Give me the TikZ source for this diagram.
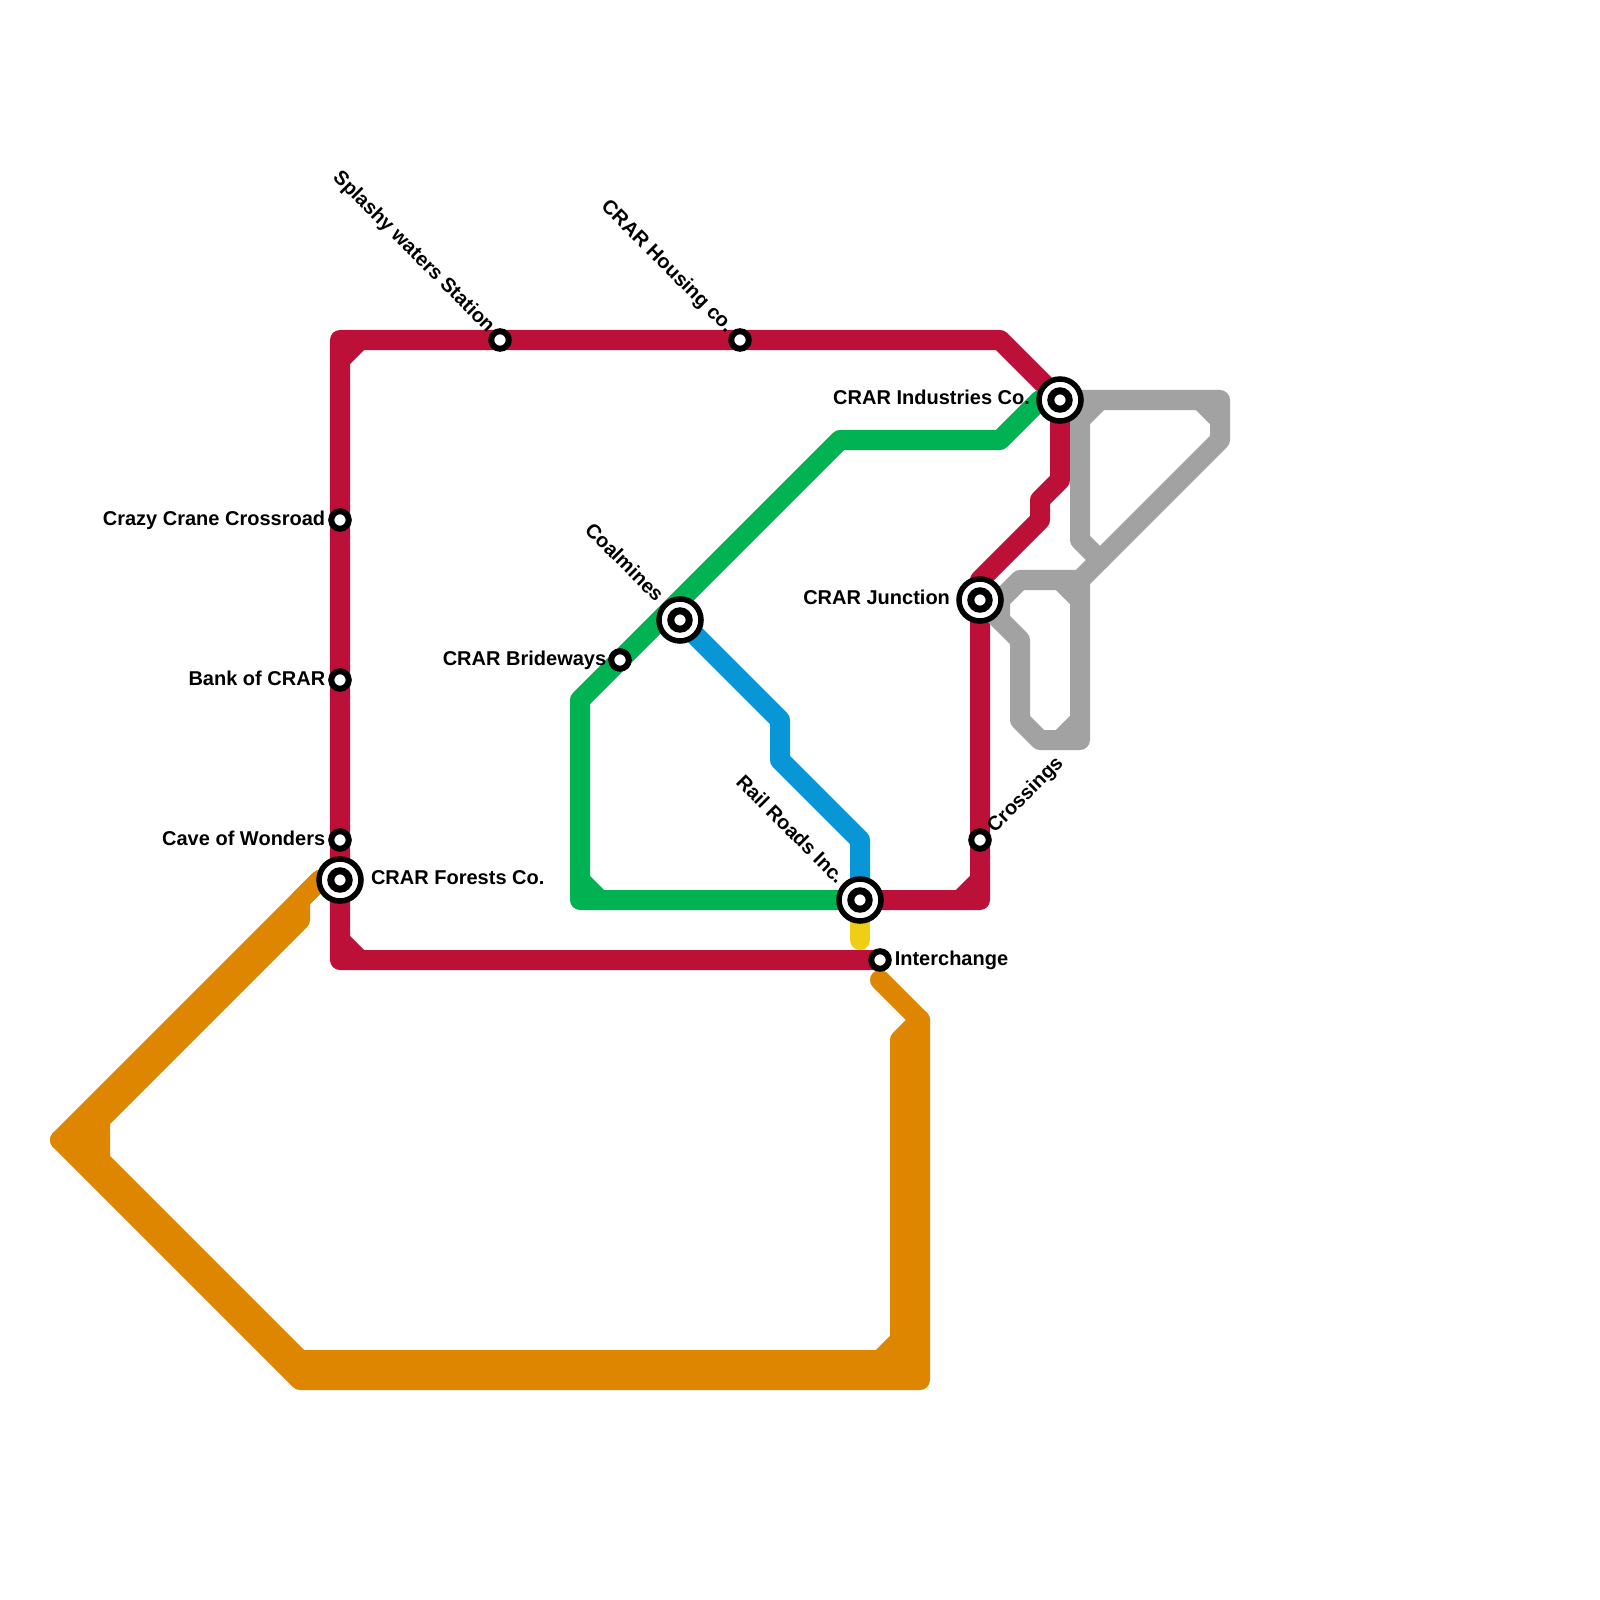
\documentclass[tikz,border=0pt]{standalone}
\usepackage{fontspec}
\setmainfont{Liberation Sans}
\usepackage{xcolor}
\usepackage{tikz}
\usetikzlibrary{positioning,backgrounds,calc}
\definecolor{linered}{HTML}{BD1038}
\definecolor{lineorange}{HTML}{DF8600}
\definecolor{linegreen}{HTML}{00B251}
\definecolor{lineblue}{HTML}{0896D7}
\definecolor{lineyellow}{HTML}{F0CE15}
\definecolor{linegray}{HTML}{A2A2A2}
\tikzset{
  track/.style={
    line width=0.2cm,
    line cap=round,
    line join=round
  },
  redtrack/.style={track, draw=linered},
  orangetrack/.style={track, draw=lineorange},
  greentrack/.style={track, draw=linegreen},
  bluetrack/.style={track, draw=lineblue},
  yellowtrack/.style={track, draw=lineyellow},
  graytrack/.style={track, draw=linegray},
  stop/.style={
    circle,
    draw=black,
    fill=white,
    line width=0.06cm,
    minimum size=0.175cm,
    inner sep=0pt,
    outer sep=0pt
  },
  hub/.style={
    circle,
    draw=black,
    fill=white,
    line width=0.055cm,
    minimum size=0.42cm,
    inner sep=0pt,
    outer sep=0pt,
    path picture={
      \draw[black, line width=0.07cm] (path picture bounding box.center) circle (0.092cm);
    }
  },
  tag/.style={
    font=\fontsize{5.69}{7}\selectfont\bfseries,
    text height=0.146cm,
    text depth=0.042cm,
    inner sep=0pt,
    outer sep=0pt
  }
}
\begin{document}
\begin{tikzpicture}[x=0.01cm, y=-0.01cm]
\useasboundingbox (0,0) rectangle (1600,1600);

% Stations on the top and left of the red line.
\node[stop] (splashy) at (500,340) {};
\node[stop] (housing) at (740,340) {};
\node[stop] (crazy) at (340,520) {};
\node[stop] (bank) at (340,680) {};
\node[stop] (cave) at (340,840) {};
\node[hub] (forests) at (340,880) {};

% Stations in the middle.
\node[hub] (coalmines) at (680,620) {};
\node[stop] (brideways) at (620,660) {};
\node[hub] (railroads) at (860,900) {};
\node[stop] (interchange) at (880,960) {};

% Stations on the right.
\node[hub] (industries) at (1060,400) {};
\node[hub] (junction) at (980,600) {};
\node[stop] (crossings) at (980,840) {};

% Labels.
\node[tag, left=0.06cm of crazy] (crazylabel) {Crazy Crane Crossroad};
\node[tag, left=0.06cm of bank] (banklabel) {Bank of CRAR};
\node[tag, left=0.06cm of cave] (cavelabel) {Cave of Wonders};
\node[tag, right=0.10cm of forests, yshift=0.01cm] (forestslabel) {CRAR Forests Co.};
\node[tag, left=0.05cm of brideways] (bridewayslabel) {CRAR Brideways};
\node[tag, left=0.09cm of industries, yshift=0.01cm] (industrieslabel) {CRAR Industries Co.};
\node[tag, left=0.09cm of junction, yshift=0.01cm] (junctionlabel) {CRAR Junction};
\node[tag, right=0.06cm of interchange] (interchangelabel) {Interchange};
\node[tag, rotate=-45, anchor=east] (splashylabel) at ($(splashy.north west)+(-3,-4)$) {Splashy waters Station};
\node[tag, rotate=-45, anchor=east] (housinglabel) at ($(housing.north west)+(-4,-4)$) {CRAR Housing co.};
\node[tag, rotate=-45, anchor=east] (coalmineslabel) at ($(coalmines.north west)+(-6,-6)$) {Coalmines};
\node[tag, rotate=-45, anchor=east] (railroadslabel) at ($(railroads.north west)+(-5,-4)$) {Rail Roads Inc.};
\node[tag, rotate=45, anchor=west] (crossingslabel) at ($(crossings.north east)+(5,-4)$) {Crossings};

% Lines go under the stations.
\begin{scope}[on background layer]
  \draw[orangetrack] (forests.center) -- (320,880) -- (60,1140) -- (300,1380) -- (920,1380) -- (920,1020) -- (880,980);
  \draw[orangetrack] (320,880) -- (300,900) -- (300,920) -- (100,1120) -- (100,1160) -- (300,1360) -- (880,1360) -- (900,1340) -- (900,1040) -- (920,1020);
  \draw[orangetrack] (910,1030) -- (910,1370) -- (300,1370) -- (80,1150);
  \draw[orangetrack] (60,1140) -- (100,1140);
  \draw[orangetrack] (100,1120) -- (80,1140) -- (100,1160);
  \draw[orangetrack] (900,1340) -- (900,1360);

  \draw[redtrack] (interchange.center) -- (340,960) -- (340,340) -- (1000,340) -- (industries.center) -- (1060,480) -- (1040,500) -- (1040,520) -- (980,580) -- (980,900) -- (railroads.center);
  \draw[redtrack] (340,360) -- (360,340);
  \draw[redtrack] (340,940) -- (360,960);
  \draw[redtrack] (960,900) -- (980,880);

  \draw[greentrack] (industries.center) -- (1040,400) -- (1000,440) -- (840,440) -- (580,700) -- (580,900) -- (railroads.center);
  \draw[greentrack] (580,880) -- (600,900);

  \draw[bluetrack] (coalmines.center) -- (780,720) -- (780,760) -- (860,840) -- (railroads.center);
  \draw[yellowtrack] (railroads.center) -- (860,940);

  \draw[graytrack] (industries.center) -- (1220,400) -- (1220,440) -- (1080,580) -- (1020,580) -- (1000,600) -- (1000,620);
  \draw[graytrack] (1080,400) -- (1080,540) -- (1100,560);
  \draw[graytrack] (junction.center) -- (1020,640) -- (1020,720) -- (1040,740) -- (1080,740) -- (1080,580);
  \draw[graytrack] (junction.center) -- (1000,600);
  \draw[graytrack] (1200,400) -- (1220,420);
  \draw[graytrack] (1080,420) -- (1100,400);
  \draw[graytrack] (1060,580) -- (1080,600);
  \draw[graytrack] (1060,740) -- (1080,720);
\end{scope}

\end{tikzpicture}
\end{document}
